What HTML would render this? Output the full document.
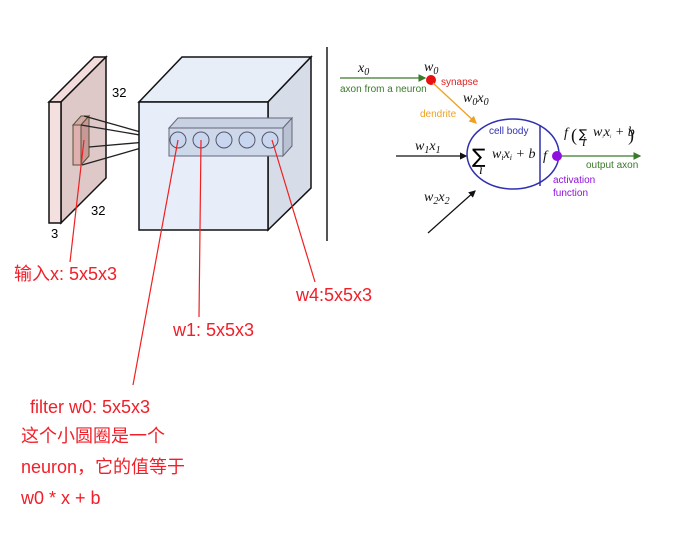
<!DOCTYPE html>
<html><head><meta charset="utf-8"><style>
body{margin:0;background:#fff;width:675px;height:535px;overflow:hidden}
svg{display:block}
.r{font-family:"Liberation Sans","Noto Sans CJK SC",sans-serif;font-size:18px;fill:#f0202a}
.m{font-family:"Liberation Serif",serif;font-style:italic;font-size:14px;fill:#111}
.s{font-family:"Liberation Sans",sans-serif;font-size:10px}
</style></head><body>
<svg width="675" height="535" viewBox="0 0 675 535" xmlns="http://www.w3.org/2000/svg">
<defs>
<marker id="ab" markerWidth="6" markerHeight="6" refX="5" refY="3" orient="auto"><path d="M0,0 L6,3 L0,6z" fill="#111"/></marker>
<marker id="ag" markerWidth="6" markerHeight="6" refX="5" refY="3" orient="auto"><path d="M0,0 L6,3 L0,6z" fill="#3a7a2a"/></marker>
<marker id="ao" markerWidth="6" markerHeight="6" refX="5" refY="3" orient="auto"><path d="M0,0 L6,3 L0,6z" fill="#f0a020"/></marker>
</defs>
<!-- slab -->
<polygon points="49,102 61,102 106,57 94,57" fill="#f3dcdc" stroke="#111" stroke-width="1.5"/>
<polygon points="61,102 106,57 106,178 61,223" fill="#dec8c8" stroke="#111" stroke-width="1.5"/>
<rect x="49" y="102" width="12" height="121" fill="#f5e0e0" stroke="#111" stroke-width="1.5"/>
<polygon points="73,125 81,125 89,116 81,116" fill="#d4a8a8" stroke="#553" stroke-width="1"/>
<polygon points="81,125 89,116 89,156 81,165" fill="#c89898" stroke="#553" stroke-width="1"/>
<rect x="73" y="125" width="8" height="40" fill="#e0b0b0" stroke="#553" stroke-width="1"/>
<g stroke="#222" stroke-width="1.3">
<line x1="84" y1="116" x2="169" y2="140"/><line x1="81" y1="125" x2="169" y2="140"/>
<line x1="89" y1="147" x2="169" y2="140"/><line x1="82" y1="165" x2="169" y2="140"/>
</g>
<text x="112" y="97" font-family="Liberation Sans" font-size="13">32</text>
<text x="91" y="215" font-family="Liberation Sans" font-size="13">32</text>
<text x="51" y="238" font-family="Liberation Sans" font-size="13">3</text>
<!-- cube -->
<polygon points="139,102 182,57 311,57 268,102" fill="#e8eef8" stroke="#111" stroke-width="1.5"/>
<polygon points="268,102 311,57 311,188 268,230" fill="#d6dce8" stroke="#111" stroke-width="1.5"/>
<rect x="139" y="102" width="129" height="128" fill="#e8eef9" stroke="#111" stroke-width="1.5"/>
<polygon points="169,128 178,118 292,118 283,128" fill="#c8d2e2" stroke="#667" stroke-width="1"/>
<polygon points="283,128 292,118 292,146 283,156" fill="#b8c2d2" stroke="#667" stroke-width="1"/>
<rect x="169" y="128" width="114" height="28" fill="#cdd8ea" stroke="#667" stroke-width="1"/>
<g fill="#c9d6f0" stroke="#556" stroke-width="1">
<circle cx="178" cy="140" r="8"/><circle cx="201" cy="140" r="8"/><circle cx="224" cy="140" r="8"/><circle cx="247" cy="140" r="8"/><circle cx="270" cy="140" r="8"/>
</g>
<line x1="327" y1="47" x2="327" y2="241" stroke="#555" stroke-width="2"/>
<!-- red -->
<g stroke="#f02020" stroke-width="1.2">
<line x1="84" y1="140" x2="70" y2="262"/>
<line x1="178" y1="140" x2="133" y2="385"/>
<line x1="201" y1="140" x2="199" y2="317"/>
<line x1="272" y1="140" x2="315" y2="282"/>
</g>
<text class="r" x="14" y="280">输入x: 5x5x3</text>
<text class="r" x="296" y="301">w4:5x5x3</text>
<text class="r" x="173" y="336">w1: 5x5x3</text>
<text class="r" x="30" y="413">filter w0: 5x5x3</text>
<text class="r" x="21" y="442" font-size="17">这个小圆圈是一个</text>
<text class="r" x="21" y="473" font-size="17">neuron，它的值等于</text>
<text class="r" x="21" y="504">w0 * x + b</text>
<!-- neuron -->
<line x1="340" y1="78" x2="425" y2="78" stroke="#3a7a2a" stroke-width="1.3" marker-end="url(#ag)"/>
<circle cx="431" cy="80" r="5" fill="#e81010"/>
<text class="m" x="358" y="72">x<tspan font-size="10" dy="3">0</tspan></text>
<text class="m" x="424" y="71">w<tspan font-size="10" dy="3">0</tspan></text>
<text class="s" x="340" y="92" fill="#3a7a2a">axon from a neuron</text>
<text class="s" x="441" y="85" fill="#e02020">synapse</text>
<line x1="433" y1="83" x2="476" y2="123" stroke="#f0a020" stroke-width="1.3" marker-end="url(#ao)"/>
<text class="m" x="463" y="102">w<tspan font-size="10" dy="3">0</tspan><tspan dy="-3">x</tspan><tspan font-size="10" dy="3">0</tspan></text>
<text class="s" x="420" y="117" fill="#f0a020">dendrite</text>
<ellipse cx="513" cy="154" rx="46" ry="35" fill="none" stroke="#3030b0" stroke-width="1.5"/>
<line x1="540" y1="125" x2="540" y2="186" stroke="#3030b0" stroke-width="1.5"/>
<text class="s" x="489" y="134" fill="#3030b0">cell body</text>
<text x="472" y="163" font-family="DejaVu Sans,sans-serif" font-size="20">∑</text>
<text x="479" y="174" class="m" font-size="7">i</text>
<text class="m" x="492" y="158" font-size="12">w<tspan font-size="8" dy="2">i</tspan><tspan dy="-2">x</tspan><tspan font-size="8" dy="2">i</tspan><tspan dy="-2"> + b</tspan></text>
<text class="m" x="543" y="160" font-size="13">f</text>
<circle cx="557" cy="156" r="5" fill="#9010e0"/>
<line x1="562" y1="156" x2="640" y2="156" stroke="#3a7a2a" stroke-width="1.3" marker-end="url(#ag)"/>
<text class="s" x="586" y="168" fill="#3a7a2a">output axon</text>
<text class="s" x="553" y="183" fill="#9010e0">activation</text>
<text class="s" x="553" y="196" fill="#9010e0">function</text>
<text class="m" x="564" y="137" font-size="10">f</text>
<text x="571" y="141" font-family="Liberation Serif,serif" font-size="18" fill="#111">(</text>
<text x="579" y="138" font-family="DejaVu Sans,sans-serif" font-size="12">∑</text>
<text x="582" y="146" class="m" font-size="5">i</text>
<text class="m" x="593" y="136" font-size="8">w<tspan font-size="5" dy="2">i</tspan><tspan dy="-2">x</tspan><tspan font-size="5" dy="2">i</tspan><tspan dy="-2"> + b</tspan></text>
<text x="628" y="141" font-family="Liberation Serif,serif" font-size="18" fill="#111">)</text>
<text class="m" x="415" y="150">w<tspan font-size="10" dy="3">1</tspan><tspan dy="-3">x</tspan><tspan font-size="10" dy="3">1</tspan></text>
<line x1="396" y1="156" x2="466" y2="156" stroke="#111" stroke-width="1.2" marker-end="url(#ab)"/>
<text class="m" x="424" y="201">w<tspan font-size="10" dy="3">2</tspan><tspan dy="-3">x</tspan><tspan font-size="10" dy="3">2</tspan></text>
<line x1="428" y1="233" x2="475" y2="191" stroke="#111" stroke-width="1.2" marker-end="url(#ab)"/>
</svg>
</body></html>
